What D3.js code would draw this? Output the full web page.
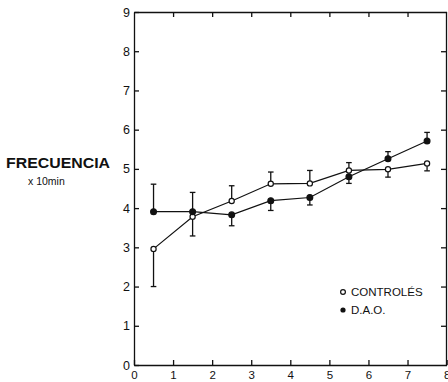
<!DOCTYPE html>
<html>
<head>
<meta charset="utf-8">
<script src="https://cdn.jsdelivr.net/npm/d3@7"></script>
<style>
  body { margin: 0; background: #fff; }
  svg text { font-family: "Liberation Sans", Arial, sans-serif; fill: #111; }
</style>
</head>
<body>
<svg width="448" height="382"></svg>
<script>
// time blocks (x 10 min), plotted at the middle of each block
const xPos = [0.5, 1.5, 2.5, 3.5, 4.5, 5.5, 6.5, 7.5];
const xTicks = [0, 1, 2, 3, 4, 5, 6, 7, 8];
const yTicks = [0, 1, 2, 3, 4, 5, 6, 7, 8, 9];

// CONTROLES (open circles) and the end of each error bar
const ctrlValues = [2.96, 3.78, 4.18, 4.62, 4.63, 4.96, 4.99, 5.14];
const ctrlBarEnd = [2.0, 3.29, 4.57, 4.92, 4.96, 5.16, 4.79, 4.95];

// D.A.O. (filled circles) and the end of each error bar
const daoValues = [3.91, 3.91, 3.83, 4.19, 4.27, 4.80, 5.26, 5.71];
const daoBarEnd = [4.61, 4.40, 3.55, 3.94, 4.08, 4.63, 5.44, 5.93];

const svg = d3.select("svg");
const x = d3.scaleLinear().domain([0, 8]).range([134, 446.6]);
const y = d3.scaleLinear().domain([0, 9]).range([365, 12]);

// Axes, ticks all pointing inward
const styleAxis = size => g => {
    g.selectAll("path, line").attr("stroke", "#111").attr("stroke-width", 1.3);
    g.selectAll("text").style("font-size", size + "px").attr("fill", "#111");
};

svg.append("g")
    .attr("transform", "translate(0," + y(0) + ")")
    .call(d3.axisBottom(x).tickValues(xTicks).tickSize(-5).tickSizeOuter(0).tickPadding(6).tickFormat(d3.format("d")))
    .call(styleAxis(11.5));

svg.append("g")
    .attr("transform", "translate(0," + y(9) + ")")
    .call(d3.axisTop(x).tickValues(xTicks.slice(1, 8)).tickSize(-5).tickSizeOuter(0).tickFormat(""))
    .call(styleAxis(11));

svg.append("g")
    .attr("transform", "translate(" + x(0) + ",0)")
    .call(d3.axisLeft(y).tickValues(yTicks).tickSize(-5).tickSizeOuter(0).tickPadding(4).tickFormat(d3.format("d")))
    .call(styleAxis(12.5));

svg.append("g")
    .attr("transform", "translate(" + (x(8) - 0.6) + ",0)")
    .call(d3.axisRight(y).tickValues(yTicks.slice(1, 9)).tickSize(-5).tickSizeOuter(0).tickFormat(""))
    .call(styleAxis(11));

// Draw one series: line, error bars, markers
function drawSeries(values, barEnd, filled) {
    const g = svg.append("g");
    const line = d3.line().x((d, i) => x(xPos[i])).y(d => y(d));
    g.append("path")
        .datum(values)
        .attr("d", line)
        .attr("fill", "none")
        .attr("stroke", "#111")
        .attr("stroke-width", 1.2);

    values.forEach((v, i) => {
        const cx = x(xPos[i]);
        g.append("line")
            .attr("x1", cx).attr("x2", cx)
            .attr("y1", y(v)).attr("y2", y(barEnd[i]))
            .attr("stroke", "#111").attr("stroke-width", 1.3);
        g.append("line")
            .attr("x1", cx - 2.8).attr("x2", cx + 2.8)
            .attr("y1", y(barEnd[i])).attr("y2", y(barEnd[i]))
            .attr("stroke", "#111").attr("stroke-width", 1.3);
    });

    g.selectAll("circle")
        .data(values)
        .enter().append("circle")
        .attr("cx", (d, i) => x(xPos[i]))
        .attr("cy", d => y(d))
        .attr("r", filled ? 2.9 : 2.6)
        .attr("fill", filled ? "#111" : "#fff")
        .attr("stroke", "#111")
        .attr("stroke-width", 1.2);
}

drawSeries(ctrlValues, ctrlBarEnd, false);
drawSeries(daoValues, daoBarEnd, true);

// Y axis title
svg.append("text")
    .attr("x", 6).attr("y", 168)
    .attr("textLength", 104).attr("lengthAdjust", "spacingAndGlyphs")
    .style("font-size", "14px").style("font-weight", "bold")
    .text("FRECUENCIA");
svg.append("text")
    .attr("x", 28).attr("y", 185)
    .style("font-size", "10.5px")
    .text("x 10min");

// Legend
svg.append("circle").attr("cx", 343).attr("cy", 292).attr("r", 2.4)
    .attr("fill", "#fff").attr("stroke", "#111").attr("stroke-width", 1.2);
svg.append("text").attr("x", 351).attr("y", 296).style("font-size", "11.5px").text("CONTROLÉS");
svg.append("circle").attr("cx", 343).attr("cy", 310).attr("r", 2.6).attr("fill", "#111");
svg.append("text").attr("x", 351).attr("y", 314).style("font-size", "11.5px").text("D.A.O.");
</script>
</body>
</html>
